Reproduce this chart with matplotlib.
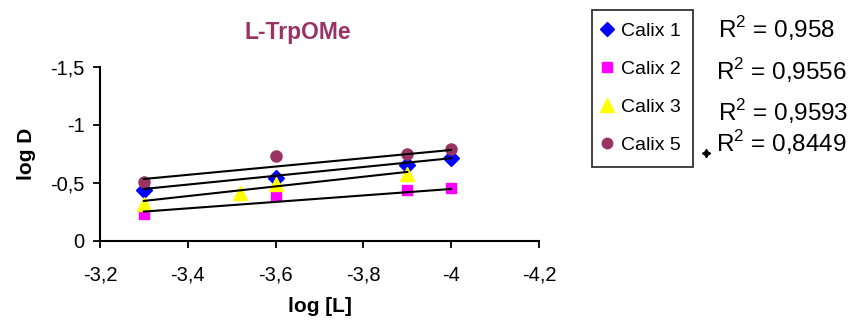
import matplotlib
matplotlib.use("Agg")
import matplotlib.pyplot as plt
from matplotlib.ticker import FuncFormatter
from matplotlib.lines import Line2D

plt.rcParams["font.family"] = ["Liberation Sans", "DejaVu Sans"]
plt.rcParams["mathtext.fontset"] = "custom"
plt.rcParams["mathtext.rm"] = "Liberation Sans"

# log D vs log [L] for each calixarene
x_c1 = [-3.3, -3.6, -3.9, -4.0]
y_c1 = [-0.44, -0.54, -0.655, -0.718]
x_c2 = [-3.3, -3.6, -3.9, -4.0]
y_c2 = [-0.23, -0.385, -0.44, -0.454]
x_c3 = [-3.3, -3.52, -3.6, -3.9]
y_c3 = [-0.32, -0.41, -0.49, -0.58]
x_c5 = [-3.3, -3.6, -3.9, -4.0]
y_c5 = [-0.506, -0.735, -0.75, -0.79]

# linear trendlines: value at first and last x of each series
trend_c1 = [-0.448, -0.713]
trend_c2 = [-0.253, -0.448]
trend_c3 = [-0.345, -0.595]
trend_c5 = [-0.534, -0.784]

labels = ["Calix 1", "Calix 2", "Calix 3", "Calix 5"]
r2_text = ["0,958", "0,9556", "0,9593", "0,8449"]

xticks = [-3.2, -3.4, -3.6, -3.8, -4.0, -4.2]
yticks = [0, -0.5, -1, -1.5]

series = [
    (x_c1, y_c1, trend_c1, "D", "#0000FF", 8),
    (x_c2, y_c2, trend_c2, "s", "#FF00FF", 7),
    (x_c3, y_c3, trend_c3, "^", "#FFFF00", 10),
    (x_c5, y_c5, trend_c5, "o", "#993366", 8),
]

fig = plt.figure(figsize=(8.59, 3.2), dpi=100)
ax = fig.add_axes([0.1164, 0.247, 0.5110, 0.544])

handles = []
for (xs, ys, tr, m, c, ms), lab in zip(series, labels):
    h, = ax.plot(xs, ys, ls="none", marker=m, color=c, mec=c, ms=ms,
                 label=lab, zorder=2)
    handles.append(h)
    ax.plot([xs[0], xs[-1]], tr, color="black", lw=1.5, zorder=3)

ax.set_xlim(-3.2, -4.2)
ax.set_ylim(0, -1.5)
ax.set_xticks(xticks)
ax.set_yticks(yticks)
fmt = FuncFormatter(lambda v, p: ("%g" % v).replace(".", ","))
ax.xaxis.set_major_formatter(fmt)
ax.yaxis.set_major_formatter(fmt)
ax.tick_params(direction="out", length=5, width=1.3, labelsize=14.5,
               colors="black")
ax.tick_params(axis="x", pad=13)
ax.tick_params(axis="y", pad=6)
for s in ["top", "right"]:
    ax.spines[s].set_visible(False)
for s in ["left", "bottom"]:
    ax.spines[s].set_linewidth(1.5)

ax.set_xlabel("log [L]", fontsize=15, fontweight="bold", labelpad=9)
ax.set_ylabel("log D", fontsize=15, fontweight="bold", labelpad=10)
fig.text(0.347, 0.9, "L-TrpOMe", color="#993366", fontsize=16.5,
         fontweight="bold", ha="center", va="center")

leg_handles = [Line2D([], [], ls="none", marker=h.get_marker(),
                      color=h.get_color(), ms=h.get_markersize() - 0.5)
               for h in handles]
leg = fig.legend(leg_handles, labels, loc="upper left",
                 bbox_to_anchor=(0.689, 0.969), frameon=True, fancybox=False,
                 fontsize=14, handlelength=0.3, handletextpad=0.55,
                 labelspacing=1.05, borderpad=0.65, borderaxespad=0)
leg.get_frame().set_edgecolor("black")
leg.get_frame().set_linewidth(1.3)

r2_y = [0.911, 0.781, 0.652, 0.553]
r2_x = [0.836, 0.834, 0.836, 0.834]
for xx, yy, t in zip(r2_x, r2_y, r2_text):
    fig.text(xx, yy, r"R$^2$ = " + t, fontsize=17.5, ha="left", va="center")

fig.lines.append(Line2D([0.8215], [0.523], transform=fig.transFigure,
                        marker=(4, 1, 0), ms=6, color="black", ls="none"))

fig.savefig("out.png", dpi=100)
